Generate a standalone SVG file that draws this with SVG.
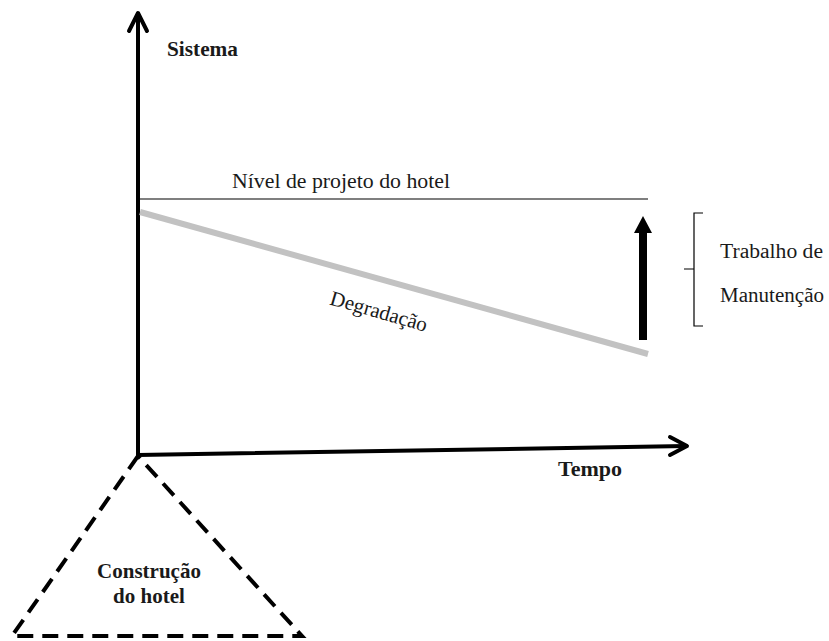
<svg xmlns="http://www.w3.org/2000/svg" width="829" height="641" viewBox="0 0 829 641">
<style>
.t{font-family:"Liberation Serif","Times New Roman",serif;fill:#1a1a1a}
.b{font-weight:bold}
.ax{stroke:#000;stroke-width:4;fill:none;stroke-linecap:round;stroke-linejoin:round}
</style>
<rect width="829" height="641" fill="#fff"/>
<g id="connectors">
<path class="ax" d="M138,455 L138,14"/>
<path class="ax" d="M129,31 L138,13 L147,31"/>
<path class="ax" d="M138,455 L686,446"/>
<path class="ax" d="M670,437 L687,446 L670,455"/>
<line x1="140" y1="199" x2="648" y2="199" stroke="#000" stroke-width="1.2"/>
<line x1="140" y1="212" x2="648" y2="354" stroke="#c2c2c2" stroke-width="6"/>
<path d="M639,340 L639,233 L634,233 L643,216 L652,233 L647,233 L647,340 Z" fill="#000"/>
<path d="M703,213 L694,213 L694,269 L684,269 M694,269 L694,326 L703,326" fill="none" stroke="#000" stroke-width="1.2"/>
</g>
<g id="triangle">
<path d="M138,456 L12,636 L302,636 Z" fill="none" stroke="#000" stroke-width="4" stroke-dasharray="16,9"/>
</g>
<g id="labels">
<text class="t b" x="167" y="56" font-size="21" textLength="71" lengthAdjust="spacingAndGlyphs">Sistema</text>
<text class="t" x="232" y="188" font-size="22" textLength="218" lengthAdjust="spacingAndGlyphs">Nível de projeto do hotel</text>
<text class="t" x="377" y="318" font-size="21" text-anchor="middle" transform="rotate(16 377 318)">Degradação</text>
<text class="t" x="720" y="258" font-size="20" textLength="103" lengthAdjust="spacingAndGlyphs">Trabalho de</text>
<text class="t" x="720" y="302" font-size="20" textLength="104" lengthAdjust="spacingAndGlyphs">Manutenção</text>
<text class="t b" x="558" y="476" font-size="21" textLength="64" lengthAdjust="spacingAndGlyphs">Tempo</text>
<text class="t b" x="149" y="578" font-size="21" text-anchor="middle" fill="#111133">Construção</text>
<text class="t b" x="149" y="603" font-size="21" text-anchor="middle" fill="#111133">do hotel</text>
</g>
</svg>
